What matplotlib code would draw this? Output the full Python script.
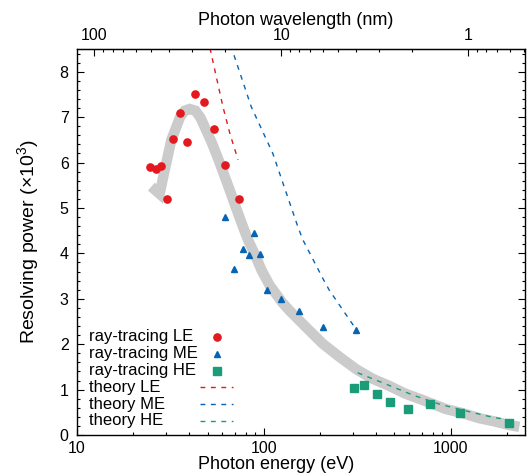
import numpy as np
import matplotlib
matplotlib.use("Agg")
import matplotlib.pyplot as plt
from matplotlib.ticker import MultipleLocator, LogLocator, NullFormatter, FixedLocator

plt.rcParams['font.family'] = ['Liberation Sans', 'DejaVu Sans']
plt.rcParams['mathtext.fontset'] = 'custom'
plt.rcParams['mathtext.rm'] = 'Liberation Sans'
plt.rcParams['mathtext.default'] = 'regular'

# ray-tracing results (energy in eV, resolving power in 10^3)
le_energy = [24.7, 26.4, 28.3, 30.3, 32.6, 35.4, 38.6, 42.8, 47.8, 53.8, 62.2, 73.2]
le_power = [5.90, 5.86, 5.93, 5.20, 6.52, 7.09, 6.46, 7.50, 7.33, 6.74, 5.95, 5.20]

me_energy = [62.2, 68.9, 77.2, 82.8, 88.9, 95.2, 103.4, 123.9, 154.5, 206.8, 310]
me_power = [4.80, 3.66, 4.10, 3.96, 4.44, 3.99, 3.19, 3.00, 2.72, 2.37, 2.31]

he_energy = [302, 345, 401, 476, 594, 779, 1127, 2053]
he_power = [1.04, 1.11, 0.91, 0.73, 0.57, 0.69, 0.49, 0.27]

# theory curves
th_le_energy = [51.5, 56, 60.4, 66, 72.8]
th_le_power = [8.52, 7.84, 7.23, 6.62, 6.06]

th_me_energy = [66.5, 85.6, 111.7, 152, 161.7, 206.8, 224, 309]
th_me_power = [8.58, 7.23, 6.20, 4.59, 4.30, 3.45, 3.19, 2.35]

th_he_energy = [318, 451, 627, 870, 1209, 1677, 2061]
th_he_power = [1.37, 1.12, 0.88, 0.68, 0.53, 0.39, 0.33]

# grey guide band
band_energy = [25.0, 27.7, 29.2, 32.0, 35.7, 37.7, 40.1, 43.1, 45.9, 48.8, 52.5,
               56.5, 60.9, 65.6, 70.6, 76.0, 81.8, 89.2, 97.2, 107.3, 125.9, 137.2,
               168.5, 206.8, 254.1, 312, 381.3, 470, 572.5, 708.6, 945, 1159,
               1424, 1713, 2060, 2331]
band_power = [5.47, 5.31, 5.76, 6.50, 7.01, 7.14, 7.18, 7.14, 6.98, 6.74, 6.45,
              6.12, 5.76, 5.40, 5.03, 4.67, 4.32, 3.99, 3.63, 3.30, 2.91, 2.74,
              2.37, 2.01, 1.72, 1.45, 1.24, 1.08, 0.91, 0.77, 0.57, 0.48,
              0.37, 0.30, 0.22, 0.18]

wavelength_ticks = [100, 10, 1]

red = "#e3191f"
blue = "#0564b4"
green = "#1a9c78"

fig = plt.figure(figsize=(5.27, 4.74), dpi=100)
ax = fig.add_axes([77 / 527, 39 / 474, 448 / 527, 386 / 474])

ax.plot(band_energy, band_power, color="#cbcbcb", lw=7.5,
        solid_joinstyle="miter", solid_capstyle="butt", zorder=1)

ax.plot(le_energy, le_power, "o", color=red, ms=5.2, ls="none", zorder=3)
ax.plot(me_energy, me_power, "^", color=blue, ms=5, ls="none", zorder=3)
ax.plot(he_energy, he_power, "s", color=green, ms=6, ls="none", zorder=3)

dash = (0, (3.5, 4))
ax.plot(th_le_energy, th_le_power, color=red, lw=1, ls=dash, zorder=2)
ax.plot(th_me_energy, th_me_power, color=blue, lw=1, ls=dash, zorder=2)
ax.plot(th_he_energy, th_he_power, color=green, lw=1, ls=dash, zorder=2)

# legend: labels on the left, keys in a column on the right
keys = [("ray-tracing LE", dict(marker="o", color=red, ms=5.2, ls="none")),
        ("ray-tracing ME", dict(marker="^", color=blue, ms=5, ls="none")),
        ("ray-tracing HE", dict(marker="s", color=green, ms=6, ls="none")),
        ("theory LE", dict(color=red, lw=1, ls=dash)),
        ("theory ME", dict(color=blue, lw=1, ls=dash)),
        ("theory HE", dict(color=green, lw=1, ls=dash))]
for i, (label, style) in enumerate(keys):
    y = 0.2539 - i * 0.0435
    ax.text(0.0268, y, label, transform=ax.transAxes, fontsize=12, va="center", ha="left")
    if style.get("ls") == "none":
        ax.plot([0.3125], [y], transform=ax.transAxes, clip_on=False, **style)
    else:
        ax.plot([0.2746, 0.3482], [y, y], transform=ax.transAxes, clip_on=False, **style)

ax.set_xscale("log")
ax.set_xlim(10, 2500)
ax.set_ylim(0, 8.5)
ax.xaxis.set_major_locator(LogLocator(base=10, numticks=10))
ax.xaxis.set_minor_locator(LogLocator(base=10, subs=np.arange(2, 10), numticks=20))
ax.xaxis.set_minor_formatter(NullFormatter())
ax.xaxis.set_major_formatter(plt.FuncFormatter(lambda v, p: f"{v:g}"))
ax.yaxis.set_major_locator(MultipleLocator(1))
ax.yaxis.set_minor_locator(MultipleLocator(0.2))

ax.tick_params(which="both", direction="in", top=False, right=True, labelsize=11.5, pad=6)
ax.tick_params(axis="x", which="both", pad=4.5)
ax.tick_params(which="major", length=5, width=0.8)
ax.tick_params(which="minor", length=2.5, width=0.8)
for s in ax.spines.values():
    s.set_linewidth(1.0)

ax.set_xlabel("Photon energy (eV)", fontsize=13)
ax.xaxis.set_label_coords(0.444, -0.055)
ax.set_ylabel("Resolving power (×10$^3$)", fontsize=14)
ax.yaxis.set_label_coords(-0.08, 0.5)


def to_nm(e):
    e = np.asarray(e, dtype=float)
    return 1239.84 / np.where(e == 0, 1e-9, e)


top = ax.secondary_xaxis("top", functions=(to_nm, to_nm))
top.xaxis.set_major_locator(FixedLocator(wavelength_ticks))
top.xaxis.set_minor_locator(LogLocator(base=10, subs=np.arange(2, 10), numticks=20))
top.xaxis.set_minor_formatter(NullFormatter())
top.xaxis.set_major_formatter(plt.FuncFormatter(lambda v, p: f"{v:g}"))
top.tick_params(which="both", direction="in", labelsize=11.5, pad=4)
top.tick_params(which="major", length=5, width=0.8)
top.tick_params(which="minor", length=2.5, width=0.8)
top.set_xlabel("Photon wavelength (nm)", fontsize=13)
top.xaxis.set_label_coords(0.489, 1.062, transform=ax.transAxes)

fig.savefig("out.png", dpi=100)
